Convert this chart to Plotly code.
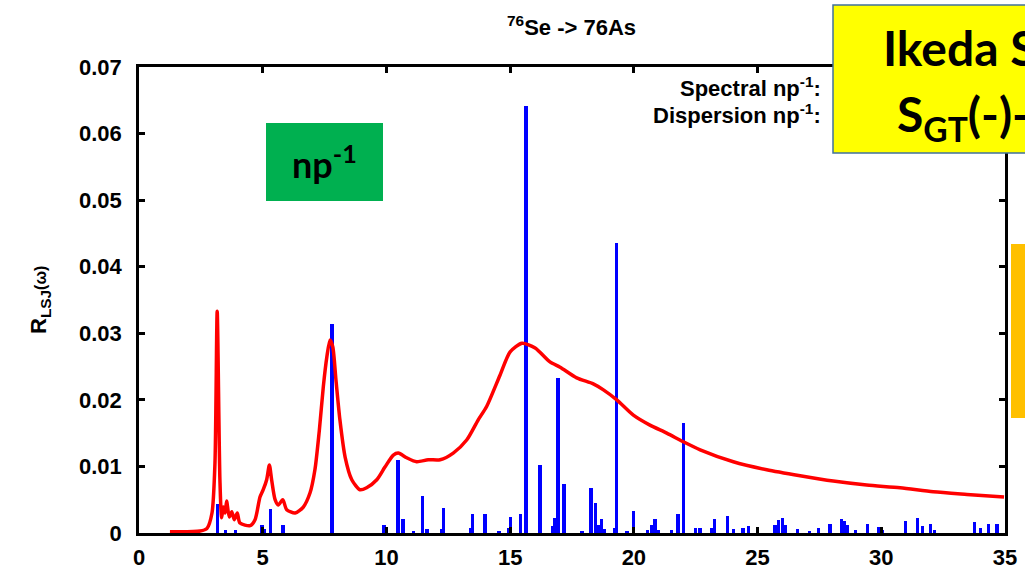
import plotly.graph_objects as go

# ---------------- data ----------------
curve_x = [1.25, 2.47, 2.75, 2.95, 3.07, 3.16, 3.27, 3.34, 3.41, 3.48, 3.54, 3.65, 3.75, 3.85,
           3.97, 4.08, 4.49, 4.69, 4.89, 5.02, 5.16, 5.27, 5.36, 5.50, 5.63, 5.81, 5.97, 6.31,
           6.64, 6.91, 7.11, 7.29, 7.45, 7.59, 7.72, 7.83, 7.96, 8.12, 8.33, 8.60, 8.93, 9.20,
           9.61, 9.94, 10.28, 10.48, 10.82, 11.22, 11.69, 12.17, 12.70, 13.25, 13.71, 14.05,
           14.59, 15.00, 15.48, 16.01, 16.61, 17.02, 17.69, 18.36, 18.77, 19.31, 19.98, 20.65,
           21.33, 22.00, 22.68, 24.02, 25.37, 26.72, 28.06, 29.41, 30.76, 32.10, 33.46, 34.96]
curve_y = [0.0002, 0.0003, 0.0007, 0.0030, 0.0105, 0.0333, 0.0080, 0.0023, 0.0039, 0.0030,
           0.0048, 0.0024, 0.0032, 0.0020, 0.0030, 0.0015, 0.0011, 0.0020, 0.0054, 0.0065,
           0.0080, 0.0102, 0.0080, 0.0050, 0.0042, 0.0050, 0.0035, 0.0030, 0.0039, 0.0060,
           0.0095, 0.0155, 0.0220, 0.0264, 0.0290, 0.0280, 0.0230, 0.0170, 0.0114, 0.0080,
           0.0065, 0.0068, 0.0080, 0.0099, 0.0117, 0.0120, 0.0113, 0.0107, 0.0110, 0.0110,
           0.0120, 0.0140, 0.0170, 0.0190, 0.0237, 0.0272, 0.0285, 0.0278, 0.0257, 0.0249,
           0.0233, 0.0224, 0.0215, 0.0200, 0.0177, 0.0162, 0.0150, 0.0137, 0.0125, 0.0107,
           0.0095, 0.0086, 0.0078, 0.0072, 0.0068, 0.0062, 0.0058, 0.0054]

bar_x = [3.16, 3.50, 3.90, 4.97, 5.05, 5.30, 5.82, 7.80, 9.90, 10.00, 10.47, 10.67, 11.10,
         11.45, 11.64, 12.25, 12.32, 13.40, 13.48, 13.98, 14.55, 14.93, 15.03, 15.43, 15.64,
         16.21, 16.70, 16.80, 16.93, 17.18, 17.90, 18.27, 18.45, 18.55, 18.70, 18.82, 19.22,
         19.30, 19.72, 20.00, 20.55, 20.72, 20.85, 21.00, 21.52, 21.78, 22.02, 22.50, 22.67,
         23.15, 23.27, 23.78, 24.02, 24.41, 24.62, 25.70, 25.85, 26.00, 26.12, 26.60, 27.10,
         27.45, 27.93, 28.40, 28.52, 28.65, 28.95, 29.43, 29.90, 30.05, 30.99, 31.47, 31.65,
         31.98, 32.14, 33.78, 34.00, 34.32, 34.68]
bar_y = [0.0044, 0.0005, 0.0004, 0.0012, 0.0006, 0.0036, 0.0012, 0.0314, 0.0012, 0.0006,
         0.0110, 0.0021, 0.0003, 0.0056, 0.0006, 0.0006, 0.0037, 0.0008, 0.0029, 0.0029,
         0.0003, 0.0008, 0.0024, 0.0029, 0.0641, 0.0102, 0.0011, 0.0022, 0.0233, 0.0074,
         0.0003, 0.0068, 0.0045, 0.0012, 0.0021, 0.0006, 0.0008, 0.0435, 0.0003, 0.0033,
         0.0005, 0.0012, 0.0021, 0.0004, 0.0004, 0.0029, 0.0165, 0.0008, 0.0008, 0.0008,
         0.0021, 0.0026, 0.0006, 0.0008, 0.0011, 0.0012, 0.0020, 0.0023, 0.0012, 0.0006,
         0.0003, 0.0008, 0.0014, 0.0021, 0.0018, 0.0012, 0.0004, 0.0014, 0.0009, 0.0005,
         0.0018, 0.0023, 0.0010, 0.0014, 0.0005, 0.0016, 0.0008, 0.0014, 0.0014]

x_ticks = [0, 5, 10, 15, 20, 25, 30, 35]
y_ticks = [0, 0.01, 0.02, 0.03, 0.04, 0.05, 0.06, 0.07]
y_tick_labels = ["0", "0.01", "0.02", "0.03", "0.04", "0.05", "0.06", "0.07"]

# ---------------- layout helpers ----------------
W, H = 1025, 573
L, R, T, B = 139, 1005, 67, 533


def px(xp):
    return (xp - L) / (R - L)


def py(yp):
    return (B - yp) / (B - T)


AX_FONT = dict(family="Liberation Sans, Arial", size=22, color="black", weight="bold")

fig = go.Figure()
fig.add_trace(go.Scatter(x=curve_x, y=curve_y, mode="lines",
                         line=dict(color="#FF0000", width=3.5, shape="spline", smoothing=0.7),
                         showlegend=False, hoverinfo="skip"))
fig.add_trace(go.Bar(x=bar_x, y=bar_y, width=0.13, marker=dict(color="#0000FF", line=dict(width=0)),
                     showlegend=False))

fig.update_layout(
    width=W, height=H,
    margin=dict(l=L, r=W - R, t=T, b=H - B, autoexpand=False),
    plot_bgcolor="white", paper_bgcolor="white",
    bargap=0,
)
fig.update_xaxes(range=[0, 35], tickvals=x_ticks, ticks="inside", ticklen=6, tickwidth=2.5,
                 tickcolor="black", showline=True, linecolor="black", linewidth=2.5,
                 mirror="allticks", showgrid=False, zeroline=False, tickfont=AX_FONT,
                 ticklabelstandoff=3, automargin=False)
fig.update_yaxes(range=[0, 0.07], tickvals=y_ticks, ticktext=y_tick_labels, ticks="inside",
                 ticklen=6, tickwidth=2.5, tickcolor="black", showline=True, linecolor="black",
                 linewidth=2.5, mirror="allticks", showgrid=False, zeroline=False,
                 tickfont=AX_FONT, ticklabelstandoff=10, automargin=False)

TXT = dict(family="Liberation Sans, Arial", size=22, color="black", weight="bold")
annos = [
    dict(x=px(571), y=py(26), text="<sup>76</sup>Se -> 76As", xanchor="center", yanchor="middle",
         font=TXT),
    dict(x=px(823), y=py(87), text="Spectral np<sup>-1</sup>:", xanchor="right", yanchor="middle",
         font=TXT),
    dict(x=px(823), y=py(114), text="Dispersion np<sup>-1</sup>:", xanchor="right",
         yanchor="middle", font=TXT),
    dict(x=px(40), y=py(300), text="R<sub>LSJ</sub><span style='font-size:16px'>(ω)</span>",
         textangle=-90, xanchor="center", yanchor="middle", font=TXT),
]

shapes = [
    dict(type="rect", x0=px(266), x1=px(383), y0=py(123), y1=py(201), fillcolor="#00B050",
         line=dict(width=0), layer="above"),
    dict(type="rect", x0=px(833), x1=px(1040), y0=py(5), y1=py(153), fillcolor="#FFFF00",
         line=dict(color="#41719C", width=1.5), layer="above"),
    dict(type="rect", x0=px(1011), x1=px(1040), y0=py(244), y1=py(418), fillcolor="#FFC000",
         line=dict(width=0), layer="above"),
]
for s in shapes:
    s.update(xref="paper", yref="paper")

BIG = dict(family="Lato, Open Sans", size=48, color="black", weight="bold")
annos += [
    dict(x=px(324), y=py(162), text="np<sup>-1</sup>", xanchor="center", yanchor="middle",
         font=dict(family="Lato, Open Sans", size=36, color="black", weight="bold")),
    dict(x=px(881), y=py(48), text="Ikeda S", xanchor="left", yanchor="middle", font=BIG),
    dict(x=px(895), y=py(117), text="S<sub>GT</sub>(-)-", xanchor="left", yanchor="middle",
         font=BIG),
]
for a in annos:
    a.update(xref="paper", yref="paper", showarrow=False)
fig.update_layout(annotations=annos, shapes=shapes)

fig.write_html("out.html")
